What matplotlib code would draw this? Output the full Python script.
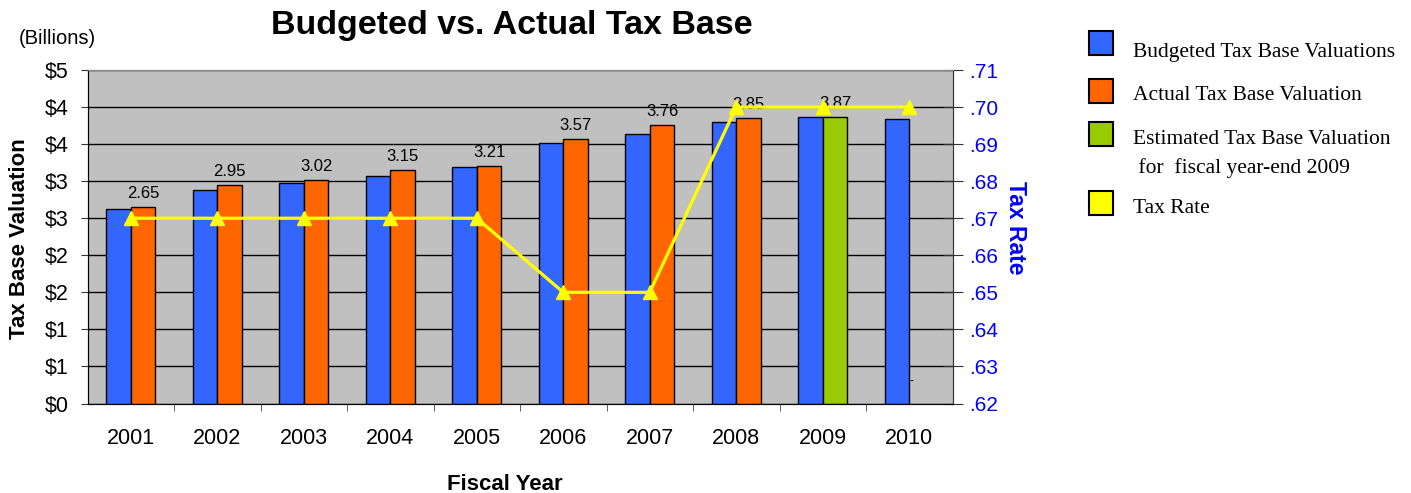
import matplotlib
matplotlib.use("Agg")
import matplotlib.pyplot as plt
from matplotlib.patches import Rectangle
import numpy as np

years = ["2001", "2002", "2003", "2004", "2005", "2006", "2007", "2008", "2009", "2010"]
budgeted = [2.63, 2.88, 2.98, 3.07, 3.19, 3.52, 3.63, 3.80, 3.86, 3.84]
actual = [2.65, 2.95, 3.02, 3.15, 3.21, 3.57, 3.76, 3.85, None, None]
estimated = [None, None, None, None, None, None, None, None, 3.87, None]
tax_rate = [0.67, 0.67, 0.67, 0.67, 0.67, 0.65, 0.65, 0.70, 0.70, 0.70]
left_ticks = [0, 0.5, 1.0, 1.5, 2.0, 2.5, 3.0, 3.5, 4.0, 4.5]
left_labels = ["$0", "$1", "$1", "$2", "$2", "$3", "$3", "$4", "$4", "$5"]
right_ticks = [0.62, 0.63, 0.64, 0.65, 0.66, 0.67, 0.68, 0.69, 0.70, 0.71]
right_labels = [".62", ".63", ".64", ".65", ".66", ".67", ".68", ".69", ".70", ".71"]

BLUE = "#3366FF"
ORANGE = "#FF6600"
GREEN = "#99CC00"
YELLOW = "#FFFF00"
SANS = ["Liberation Sans", "DejaVu Sans"]
SERIF = ["Liberation Serif", "DejaVu Serif"]
W, H = 1411, 493
PT = 0.72  # points per pixel at 100 dpi

fig = plt.figure(figsize=(14.11, 4.93), dpi=100)
ax = fig.add_axes([87.5 / W, 1 - 403.5 / H, (952.5 - 87.5) / W, (403.5 - 70) / H])
ax.set_facecolor("#C0C0C0")

x = np.arange(len(years))
w = 0.285
off = 0.142
ax.bar(x - off, budgeted, w, color=BLUE, edgecolor="black", linewidth=1, zorder=3)
a_idx = [i for i, v in enumerate(actual) if v is not None]
ax.bar(np.array(a_idx) + off, [actual[i] for i in a_idx], w, color=ORANGE, edgecolor="black", linewidth=1, zorder=3)
e_idx = [i for i, v in enumerate(estimated) if v is not None]
ax.bar(np.array(e_idx) + off, [estimated[i] for i in e_idx], w, color=GREEN, edgecolor="black", linewidth=1, zorder=3)

for series in (actual, estimated):
    for i, v in enumerate(series):
        if v is not None:
            ax.annotate(f"{v:.2f}", (i + off, v), xytext=(0, 9 * PT), textcoords="offset points",
                        ha="center", va="baseline", fontsize=12, family=SANS, zorder=6)

ax.set_xlim(-0.5, 9.5)
ax.set_ylim(0, 4.5)
ax.set_yticks(left_ticks)
ax.set_yticklabels(left_labels, fontsize=15.5, family=SANS)
ax.yaxis.grid(True, color="black", linewidth=1, zorder=1)
ax.set_axisbelow(True)
ax.set_xticks(x)
ax.set_xticklabels(years, fontsize=15.5, family=SANS)
ax.tick_params(axis="x", length=0, pad=25 * PT)
ax.set_xticks(np.arange(0.5, 9.5, 1.0), minor=True)
ax.tick_params(axis="x", which="minor", length=7 * PT, direction="out", color="#444444")
ax.tick_params(axis="y", length=7 * PT, direction="out", pad=12 * PT, color="#333333")
for s in ["top", "right"]:
    ax.spines[s].set_color("#888888")
ax.spines["left"].set_color("#333333")
ax.spines["bottom"].set_color("#666666")

ax2 = ax.twinx()
ax2.set_ylim(0.62, 0.71)
ax2.plot(x, tax_rate, color=YELLOW, linewidth=2.3, marker="^", markersize=10, zorder=5, clip_on=False)
ax2.set_yticks(right_ticks)
ax2.set_yticklabels(right_labels, fontsize=15, family=SANS, color="#0000FF")
ax2.tick_params(axis="y", length=20 * PT, direction="inout", pad=7 * PT, color="#333333")
ax2.spines["right"].set_color("#333333")
ax2.spines["top"].set_color("#888888")

ax.text(9.0, 0.3, "-", fontsize=9, family=SANS, ha="left", va="center", zorder=6)

fig.text(20 / W, 1 - 239 / H, "Tax Base Valuation", rotation=90, ha="center", va="center",
         fontsize=16, fontweight="bold", family=SANS)
fig.text(505 / W, 1 - 485 / H, "Fiscal Year", ha="center", va="center",
         fontsize=16, fontweight="bold", family=SANS)
fig.text(1015 / W, 1 - 228 / H, "Tax Rate", rotation=-90, ha="center", va="center",
         fontsize=16.5, fontweight="bold", family=SANS, color="#0000FF")
fig.text(512 / W, 1 - 34 / H, "Budgeted vs. Actual Tax Base", ha="center", va="baseline",
         fontsize=24.5, fontweight="bold", family=SANS)
fig.text(57 / W, 1 - 38 / H, "(Billions)", ha="center", va="center", fontsize=14.5, family=SANS)

# legend
items = [
    (BLUE, ["Budgeted Tax Base Valuations"], 43, [57]),
    (ORANGE, ["Actual Tax Base Valuation"], 91, [100]),
    (GREEN, ["Estimated Tax Base Valuation", " for  fiscal year-end 2009"], 134, [144, 173]),
    (YELLOW, ["Tax Rate"], 203, [213]),
]
for col, lines, yc, baselines in items:
    fig.patches.append(Rectangle((1089 / W, 1 - (yc + 12) / H), 24 / W, 24 / H, transform=fig.transFigure,
                                 facecolor=col, edgecolor="black", linewidth=1.5))
    for t, by in zip(lines, baselines):
        fig.text(1133 / W, 1 - by / H, t, ha="left", va="baseline", fontsize=15.5, family=SERIF)

fig.savefig("out.png", dpi=100)
